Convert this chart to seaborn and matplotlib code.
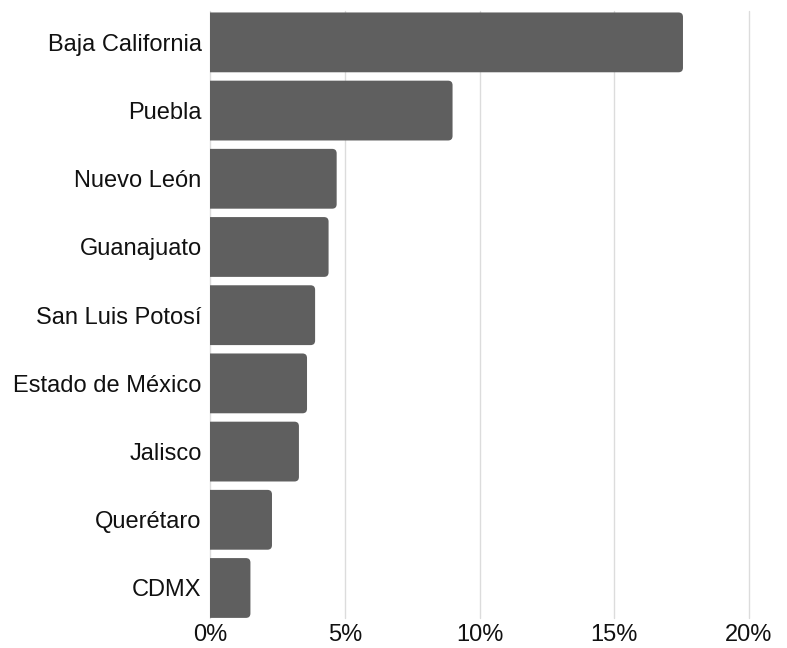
import matplotlib
matplotlib.use("Agg")
import matplotlib.pyplot as plt
import seaborn as sns
import pandas as pd
from matplotlib.patches import FancyBboxPatch
from matplotlib.ticker import FuncFormatter

states = ["Baja California", "Puebla", "Nuevo León", "Guanajuato", "San Luis Potosí",
          "Estado de México", "Jalisco", "Querétaro", "CDMX"]
shares = [17.55, 9.0, 4.7, 4.4, 3.9, 3.6, 3.3, 2.3, 1.5]
xticks = [0, 5, 10, 15, 20]

df = pd.DataFrame({"state": states, "share": shares})

sns.set_theme(style="white")
plt.rcParams["font.family"] = ["Liberation Sans", "DejaVu Sans"]

fig = plt.figure(figsize=(7.87, 6.48), dpi=100)
ax = fig.add_axes([210 / 787, 1 - 618 / 648, (749 - 210) / 787, (618 - 11) / 648])

bar_color = "#5f5f5f"
sns.barplot(data=df, x="share", y="state", orient="h", color=bar_color,
            saturation=1, width=0.877, ax=ax, zorder=3)

ax.set_xlim(0, 20)
ax.set_ylim(8.44, -0.46)
fig.canvas.draw()

# convert bars to rounded rectangles (right corners rounded, left clipped at x=0)
px_per_x = ax.transData.transform((1, 0))[0] - ax.transData.transform((0, 0))[0]
px_per_y = abs(ax.transData.transform((0, 1))[1] - ax.transData.transform((0, 0))[1])
radius_px = 4.5
rx = radius_px / px_per_x
aspect = px_per_x / px_per_y
for p in list(ax.patches):
    x0, y0 = p.get_x(), p.get_y()
    w, h = p.get_width(), p.get_height()
    p.remove()
    fb = FancyBboxPatch((x0 - 1.0, y0), w + 1.0, h,
                        boxstyle=f"round,pad=0,rounding_size={rx}",
                        mutation_aspect=aspect,
                        facecolor=bar_color, edgecolor="none", zorder=3)
    ax.add_patch(fb)

ax.set_xticks(xticks)
ax.xaxis.set_major_formatter(FuncFormatter(lambda v, _: f"{v:.0f}%"))
ax.grid(axis="x", color="#dcdcdc", linewidth=1.0, zorder=0)
for gl in ax.get_xgridlines():
    gl.set_clip_on(False)
ax.grid(axis="y", visible=False)
for s in ax.spines.values():
    s.set_visible(False)
ax.tick_params(axis="both", length=0, labelsize=17, colors="#111111")
ax.tick_params(axis="y", pad=6)
ax.tick_params(axis="x", pad=4)
ax.set_xlabel("")
ax.set_ylabel("")

fig.savefig("out.png", dpi=100)
